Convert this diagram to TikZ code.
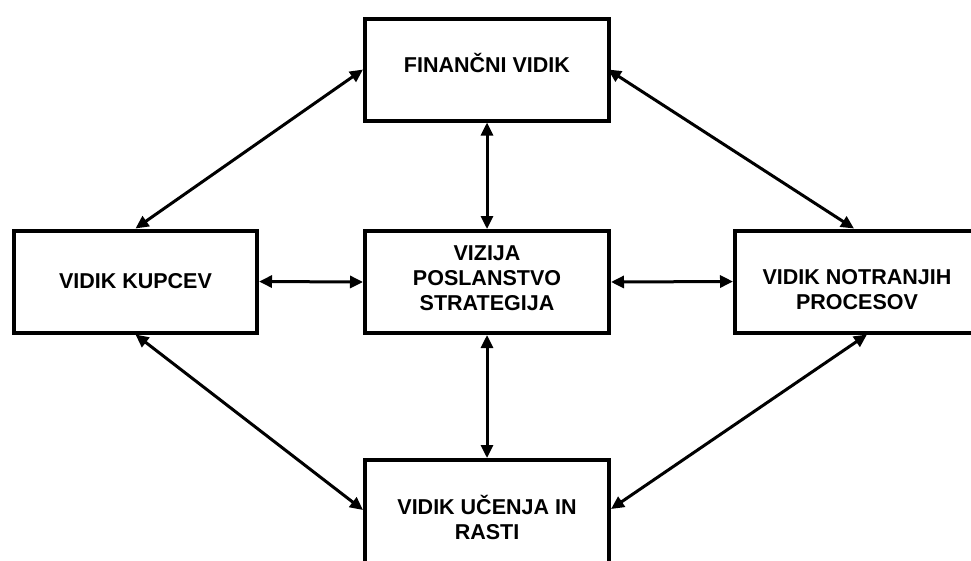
\documentclass[tikz,border=0pt]{standalone}
\usepackage{fontspec}
\setmainfont{Liberation Sans}
\usetikzlibrary{arrows.meta}
\begin{document}
\begin{tikzpicture}[x=1pt,y=-1pt,
  box/.style={draw=black,line width=4pt,rectangle,minimum width=244pt,minimum height=102pt,inner sep=0pt},
  txt/.style={align=center,inner sep=0pt,font=\fontsize{21.5pt}{25pt}\selectfont\bfseries},
  link/.style={line width=3pt,{Triangle[length=13pt,width=12pt]}-{Triangle[length=13pt,width=12pt]}}]
  \path[use as bounding box,clip] (0,0) rectangle (971,560);
  \fill[white] (0,0) rectangle (971,560);

  % the five perspectives
  \node[box] (fin) at (487,69.5) {};
  \node[box] (mid) at (487,282) {};
  \node[box,minimum width=243pt] (cust) at (135.5,281.5) {};
  \node[box] (proc) at (857,281.5) {};
  \node[box,minimum height=110pt] (learn) at (487,515) {};

  \node[txt] (fin-t) at ([yshift=7pt]fin.center) {FINANČNI VIDIK};
  \node[txt] (mid-t) at ([yshift=3.5pt]mid.center) {VIZIJA\\POSLANSTVO\\STRATEGIJA};
  \node[txt] (cust-t) at (cust.center) {VIDIK KUPCEV};
  \node[txt] (proc-t) at ([yshift=-8pt]proc.center) {VIDIK NOTRANJIH\\PROCESOV};
  \node[txt] (learn-t) at ([yshift=-2pt]learn.center) {VIDIK UČENJA IN\\RASTI};

  % connections
  \draw[link] (fin.south) -- (mid.north);
  \draw[link] (mid.south) -- (learn.north);
  \draw[link] (cust.east) -- (mid.west);
  \draw[link] (mid.east) -- (proc.west);
  \draw[link] (fin.west) -- (cust.north);
  \draw[link] ([xshift=-3pt]fin.east) -- ([xshift=-3pt]proc.north);
  \draw[link] (cust.south) -- ([yshift=5pt]learn.west);
  \draw[link] ([xshift=10pt]proc.south) -- ([yshift=6pt]learn.east);
\end{tikzpicture}
\end{document}
